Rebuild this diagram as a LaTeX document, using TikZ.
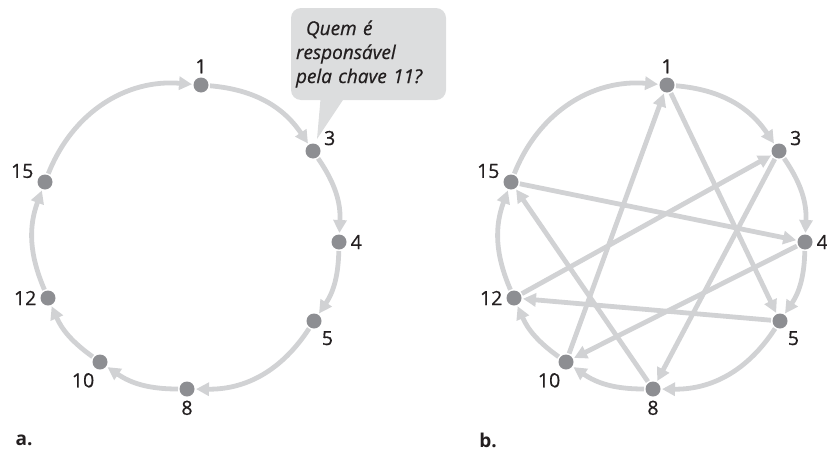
\documentclass[tikz,border=0pt]{standalone}
\usepackage{fontspec}
\setmainfont{Open Sans}[UprightFeatures={FakeBold=0.7},ItalicFeatures={FakeBold=0.7}]
\usetikzlibrary{arrows.meta,backgrounds}
\definecolor{ringgray}{HTML}{D1D2D4}
\definecolor{dotgray}{HTML}{8D8E92}
\definecolor{bubblegray}{HTML}{DCDDDE}
\definecolor{inkblack}{HTML}{231F20}
\begin{document}
\begin{tikzpicture}[x=1pt,y=-1pt,line join=round,>={Triangle[length=13pt,width=13pt]}]
	\tikzset{
		dot/.style={circle,fill=dotgray,minimum size=15pt,inner sep=0pt,outer sep=1.5pt},
		lbl/.style={font=\fontsize{19.5}{22}\selectfont,text=inkblack,inner sep=2.5pt},
		hop/.style={->,draw=ringgray,line width=4.8pt},
		bubble/.style={fill=bubblegray,rounded corners=10pt,minimum width=155pt,minimum height=92pt,
			text width=145pt,inner sep=5pt,align=left,text=inkblack,font=\fontsize{19}{24}\selectfont\itshape},
		tag/.style={font=\fontsize{19}{20}\selectfont\bfseries,text=inkblack,inner sep=0pt}
	}
	\useasboundingbox (0,0) rectangle (827,450);
	% nodes of both rings, b is a shifted by 466
	\foreach \n/\x/\y/\a in {1/201/85/90, 3/313/151/20, 4/339/242/0, 5/314/321/-55,
		8/187/389/-90, 10/100/362/-110, 12/48/298/180, 15/45/182/172}{
		\node[dot,label={[lbl]\a:\n}] (a\n) at (\x,\y) {};
		\node[dot,label={[lbl]\a:\n}] (b\n) at (\x+466,\y) {};
	}
	\begin{scope}[on background layer]
		% ring successors
		\foreach \r in {a,b}{
			\draw[hop] (\r1) to[bend left=25.6] (\r3);
			\draw[hop] (\r3) to[bend left=18.6] (\r4);
			\draw[hop] (\r4) to[bend left=16.3] (\r5);
			\draw[hop] (\r5) to[bend left=28.7] (\r8);
			\draw[hop] (\r8) to[bend left=17.3] (\r10);
			\draw[hop] (\r10) to[bend left=15.3] (\r12);
			\draw[hop] (\r12) to[bend left=21.8] (\r15);
			\draw[hop] (\r15) to[bend left=36.5] (\r1);
		}
		% finger table shortcuts
		\draw[hop] (b1) -- (b5);
		\draw[hop] (b3) -- (b8);
		\draw[hop] (b4) -- (b10);
		\draw[hop] (b5) -- (b12);
		\draw[hop] (b8) -- (b15);
		\draw[hop] (b10) -- (b1);
		\draw[hop] (b12) -- (b3);
		\draw[hop] (b15) -- (b4);
	\end{scope}
	% speech bubble
	\node[bubble] (ask) at (368.5,54) {\hspace*{10pt}Quem é\\responsável\\pela chave 11?};
	\coordinate (tip) at (317,139);
	\fill[bubblegray] ([xshift=-48pt,yshift=1pt]ask.south) -- ([xshift=-25pt,yshift=1pt]ask.south) -- (tip) -- cycle;
	\node[tag] (capa) at (24,440) {a.};
	\node[tag] (capb) at (488,440) {b.};
\end{tikzpicture}
\end{document}
